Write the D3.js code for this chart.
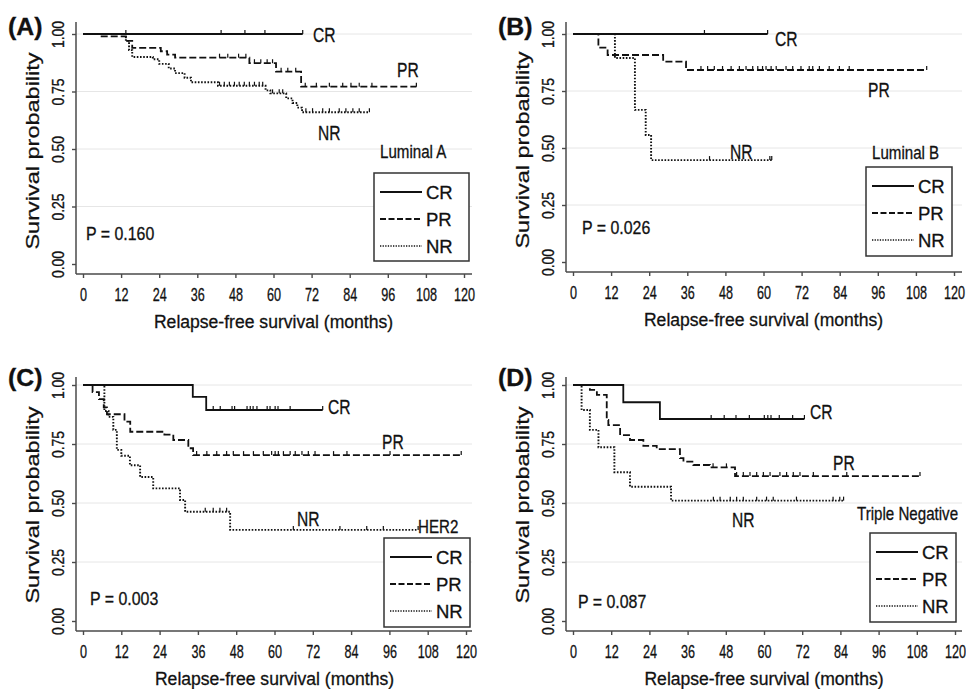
<!DOCTYPE html>
<html>
<head>
<meta charset="utf-8">
<script src="https://cdn.jsdelivr.net/npm/d3@7"></script>
<style>
  body { margin: 0; background: #fff; }
  svg { display: block; font-family: "Liberation Sans", Arial, sans-serif; }
  text { stroke: #111; stroke-width: 0.3px; }
</style>
</head>
<body>
<svg width="966" height="689"></svg>
<script>
// ---- data ----
const monthTicks = [0, 12, 24, 36, 48, 60, 72, 84, 96, 108, 120];
const survTicks = [0, 0.25, 0.5, 0.75, 1];
const groups = ["CR", "PR", "NR"];
const panelLetters = ["(A)", "(B)", "(C)", "(D)"];
const subtypes = ["Luminal A", "Luminal B", "HER2", "Triple Negative"];
const pValues = ["P = 0.160", "P = 0.026", "P = 0.003", "P = 0.087"];

// Kaplan-Meier steps: [month, survival]; last point is end of follow-up
const aCR = [[0, 1], [69.2, 1]];
const aPR = [[0, 1], [5.5, 0.99], [13.5, 0.97], [15.5, 0.94], [24.5, 0.925], [26.5, 0.91], [29, 0.897],
             [52.4, 0.873], [60.8, 0.836], [68.7, 0.771], [105, 0.771]];
const aNR = [[0, 1], [13.5, 0.97], [14.5, 0.93], [15.5, 0.9], [22, 0.89], [24, 0.87], [27, 0.85], [29, 0.83],
             [32, 0.81], [34, 0.79], [42.5, 0.775], [57.5, 0.755], [59, 0.742], [64, 0.72], [66, 0.70],
             [67.5, 0.68], [69, 0.66], [90.2, 0.66]];
const bCR = [[0, 1], [61.3, 1]];
const bPR = [[0, 1], [8, 0.94], [10.9, 0.908], [28.4, 0.879], [35.6, 0.842], [111.4, 0.842]];
const bNR = [[0, 1], [13.2, 0.895], [19.5, 0.667], [22.9, 0.557], [24.6, 0.447], [62.6, 0.447]];
const cCR = [[0, 1], [34.4, 0.95], [38.6, 0.894], [75.1, 0.894]];
const cPR = [[0, 1], [3, 0.97], [5, 0.94], [6.5, 0.905], [7.5, 0.876], [13, 0.845], [14.8, 0.802],
             [25.5, 0.79], [28.3, 0.767], [33, 0.732], [34.5, 0.703], [118.5, 0.703]];
const cNR = [[0, 1], [6.7, 0.89], [8, 0.865], [9.5, 0.81], [10.6, 0.725], [12, 0.70], [14.7, 0.66],
             [17.9, 0.61], [22, 0.562], [30.4, 0.513], [32, 0.463], [46.1, 0.386], [105, 0.386]];
const dCR = [[0, 1], [15.8, 0.927], [27.3, 0.856], [72.7, 0.856]];
const dPR = [[0, 1], [5.3, 0.979], [7.5, 0.958], [10.6, 0.852], [11.1, 0.83], [14.8, 0.788], [17.9, 0.767],
             [22.1, 0.742], [26.3, 0.728], [33.6, 0.69], [34.7, 0.675], [37.8, 0.661], [43, 0.651],
             [50.9, 0.614], [109, 0.614]];
const dNR = [[0, 1], [2.7, 0.894], [5.3, 0.81], [8, 0.736], [13, 0.63], [17.9, 0.569], [30.8, 0.51], [85, 0.51]];

// censoring marks (months)
const aCRcens = [13.5, 43.5, 51, 57.3, 69.2];
const aPRcens = [43, 45.6, 49, 51.3, 54, 56, 58, 59.7, 62.4, 64.5, 67, 70, 73.5, 77.6, 81.8, 84.4, 87, 91, 105];
const aNRcens = [43, 44.5, 46.1, 47.7, 49.2, 50.8, 52.4, 54, 55.5, 56.6, 59.7, 61.8, 62.9, 70.2, 72.3, 75.5,
                 77.6, 80.7, 82.8, 85, 87, 90.2];
const bCRcens = [41.4, 61.3];
const bPRcens = [40.3, 42.4, 44.5, 47.1, 49.8, 52.4, 54.5, 56.6, 58.2, 59.7, 60.8, 62.4, 64, 67.1, 69.2, 71.8,
                 74.4, 75.5, 77.6, 80.7, 83.9, 87, 111.4];
const bNRcens = [43, 62, 62.6];
const cCRcens = [40.8, 43, 46.7, 47.5, 51.4, 52.4, 53.3, 54.5, 57.7, 58.6, 60.2, 61.1, 64.9, 75.1];
const cPRcens = [35.6, 38.8, 41.9, 45, 47.1, 50.3, 53.4, 56.5, 59.1, 60.2, 61.2, 62.8, 64.9, 66.5, 68.6, 70.6,
                 72.7, 78.5, 82.7, 96.2, 118.5];
const cNRcens = [38.3, 40.8, 42.9, 45, 65.9, 80.5, 88.9, 94.1, 105];
const dCRcens = [43.4, 47.5, 51.2, 55.4, 60.1, 61.2, 62.2, 64.8, 69, 72.7];
const dPRcens = [44, 48.2, 51.4, 53.5, 55.6, 57.7, 59.8, 61.9, 65, 67.1, 69.2, 71.3, 75.5, 86, 109];
const dNRcens = [44.1, 46.2, 49.4, 51.4, 53.5, 57.7, 60.8, 62.9, 70.2, 81.7, 83.8, 85];

const curves = [
  [aCR, aPR, aNR], [bCR, bPR, bNR], [cCR, cPR, cNR], [dCR, dPR, dNR]
];
const censors = [
  [aCRcens, aPRcens, aNRcens], [bCRcens, bPRcens, bNRcens],
  [cCRcens, cPRcens, cNRcens], [dCRcens, dPRcens, dNRcens]
];

// ---- layout of the four panels ----
const layout = [
  {ax: 76, xa: 274, x0: 83, x1: 464, y1: 34, y0: 264, right: 472, top: 22,
   legend: {x: 374, y: 173, w: 95, h: 88}, lab: [[313, 35], [397, 70], [318, 133]], sub: [380, 152], p: [86, 233]},
  {ax: 566, xa: 272, x0: 573, x1: 954, y1: 34, y0: 262, right: 962, top: 22,
   legend: {x: 866, y: 167, w: 86, h: 89}, lab: [[775, 39], [868, 90], [730, 152]], sub: [872, 153], p: [582, 227]},
  {ax: 76, xa: 631, x0: 83, x1: 466, y1: 385, y0: 621, right: 472, top: 377,
   legend: {x: 384, y: 538, w: 86, h: 89}, lab: [[328, 407], [382, 442], [297, 519]], sub: [418, 527], p: [90, 598]},
  {ax: 566, xa: 631, x0: 573, x1: 955, y1: 385, y0: 621, right: 962, top: 377,
   legend: {x: 870, y: 533, w: 86, h: 89}, lab: [[810, 412], [833, 463], [732, 520]], sub: [857, 514], p: [578, 601]}
];

const dashes = ["none", "7,3", "1.6,1.6"];
const legendDashes = ["none", "6,2.5", "1.3,1.3"];
const axisColor = "#4a4a4a";

const svg = d3.select("svg");

function label(g, x, y, txt, size, sx, opts = {}) {
  return g.append("text")
    .attr("transform", `translate(${x},${y}) scale(${sx},1)`)
    .attr("dy", "0.36em")
    .attr("font-size", size)
    .attr("font-weight", opts.bold ? "bold" : null)
    .attr("text-anchor", opts.anchor || "start")
    .attr("fill", "#111")
    .text(txt);
}

layout.forEach((L, i) => {
  const g = svg.append("g");
  const x = d3.scaleLinear().domain([0, 120]).range([L.x0, L.x1]);
  const y = d3.scaleLinear().domain([0, 1]).range([L.y0, L.y1]);

  // gridlines
  g.selectAll(".grid").data(survTicks.filter(d => d > 0)).join("line")
    .attr("x1", L.ax).attr("x2", L.right)
    .attr("y1", d => y(d)).attr("y2", d => y(d))
    .attr("stroke", "#e6e6e6").attr("stroke-width", 1);

  // x axis
  const gx = g.append("g").attr("transform", `translate(0,${L.xa})`)
    .call(d3.axisBottom(x).tickValues(monthTicks).tickSize(4).tickSizeOuter(0));
  gx.select(".domain").remove();
  gx.selectAll(".tick line").attr("stroke", axisColor).attr("stroke-width", 1.4);
  gx.selectAll(".tick text")
    .attr("y", 0).attr("dy", null)
    .attr("transform", "translate(0,27) scale(0.72,1)")
    .attr("font-size", 17.5).attr("font-family", null).attr("fill", "#111");
  g.append("line").attr("x1", L.ax).attr("x2", L.right).attr("y1", L.xa).attr("y2", L.xa)
    .attr("stroke", axisColor).attr("stroke-width", 1.5);

  // y axis
  const gy = g.append("g").attr("transform", `translate(${L.ax},0)`)
    .call(d3.axisLeft(y).tickValues(survTicks).tickFormat(d3.format(".2f")).tickSize(4).tickSizeOuter(0));
  gy.select(".domain").remove();
  gy.selectAll(".tick line").attr("stroke", axisColor).attr("stroke-width", 1.4);
  gy.selectAll(".tick text")
    .attr("x", null).attr("dy", null)
    .attr("transform", "translate(-12,0) rotate(-90) scale(1,1.12)")
    .attr("text-anchor", "middle")
    .attr("font-size", 14).attr("font-family", null).attr("fill", "#111");
  g.append("line").attr("x1", L.ax).attr("x2", L.ax).attr("y1", L.top).attr("y2", L.xa)
    .attr("stroke", axisColor).attr("stroke-width", 1.5);

  // axis titles
  g.append("text")
    .attr("transform", `translate(${L.ax - 37},${(L.y0 + L.y1) / 2 + 2}) rotate(-90) scale(1,0.8)`)
    .attr("text-anchor", "middle").attr("font-size", 23.5).attr("fill", "#111")
    .text("Survival probability");
  label(g, (L.x0 + L.x1) / 2, L.xa + 47, "Relapse-free survival (months)", 18.5, 0.95, {anchor: "middle"});

  // panel letter
  label(g, L.ax - 68, L.y1 - 7, panelLetters[i], 23, 1.08, {bold: true});

  // curves
  const line = d3.line().curve(d3.curveStepAfter).x(d => x(d[0])).y(d => y(d[1]));
  curves[i].forEach((pts, k) => {
    g.append("path").datum(pts)
      .attr("d", line)
      .attr("fill", "none").attr("stroke", "#111")
      .attr("stroke-width", k === 2 ? 1.9 : 1.8)
      .attr("stroke-dasharray", dashes[k]);
    const survAt = t => {
      let s = pts[0][1];
      pts.forEach(p => { if (p[0] <= t) s = p[1]; });
      return s;
    };
    g.selectAll(null).data(censors[i][k]).join("line")
      .attr("x1", d => x(d)).attr("x2", d => x(d))
      .attr("y1", d => y(survAt(d))).attr("y2", d => y(survAt(d)) - 4)
      .attr("stroke", "#111").attr("stroke-width", 1.2);
  });

  // curve labels
  groups.forEach((gname, k) => label(g, L.lab[k][0], L.lab[k][1], gname, 20, 0.78));
  label(g, L.sub[0], L.sub[1], subtypes[i], 18, 0.84);
  label(g, L.p[0], L.p[1], pValues[i], 18.5, 0.86);

  // legend
  const lg = L.legend;
  g.append("rect").attr("x", lg.x).attr("y", lg.y).attr("width", lg.w).attr("height", lg.h)
    .attr("fill", "#fff").attr("stroke", "#333").attr("stroke-width", 1.5);
  groups.forEach((gname, k) => {
    const ry = lg.y + 19 + k * 27;
    g.append("line").attr("x1", lg.x + 6).attr("x2", lg.x + 48).attr("y1", ry).attr("y2", ry)
      .attr("stroke", "#111").attr("stroke-width", k === 2 ? 1.3 : 1.8)
      .attr("stroke-dasharray", legendDashes[k]);
    label(g, lg.x + 52, ry, gname, 18.5, 1);
  });
});
</script>
</body>
</html>
